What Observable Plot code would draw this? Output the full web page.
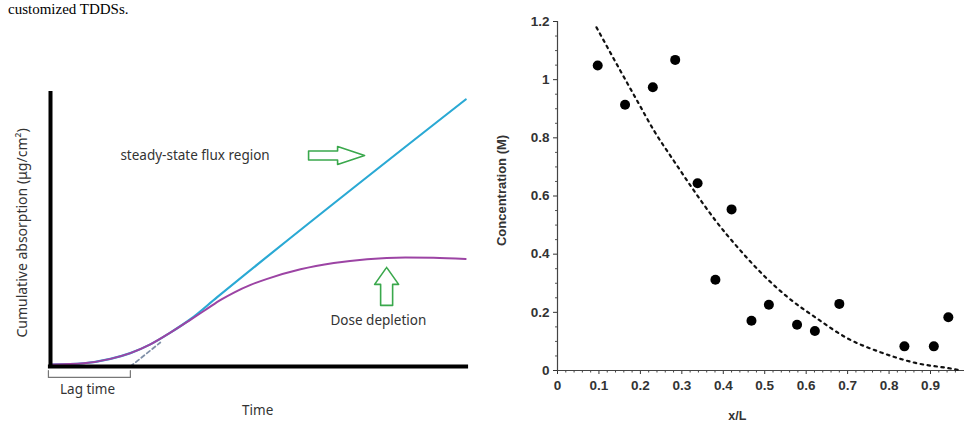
<!DOCTYPE html>
<html>
<head>
<meta charset="utf-8">
<script src="https://cdn.jsdelivr.net/npm/d3@7"></script>
<script src="https://cdn.jsdelivr.net/npm/@observablehq/plot@0.6"></script>
<style>
  html, body { margin: 0; padding: 0; background: #fff; }
  #wrap { position: relative; width: 964px; height: 426px; overflow: hidden; background: #fff; }
  #wrap svg { position: absolute; }
  #wrap svg.rightPanel g[aria-label$="tick label"] { font-size: 13.5px; font-weight: bold; }
</style>
</head>
<body>
<div id="wrap"></div>
<script>
// ---------- Left panel: schematic absorption profile (arbitrary units 0..100) ----------
const purpleX = [0, 8.0, 14.4, 19.2, 24.0, 28.8, 33.7, 37.7, 40.9, 44.1, 48.1, 52.1, 60.1, 68.1, 76.1, 85.3, 92.1, 99.8];
const purpleY = [0.7, 1.2, 2.8, 4.9, 8.1, 12.4, 17.2, 21.2, 24.4, 27.1, 29.9, 32.1, 35.6, 37.9, 39.3, 39.9, 39.8, 39.4];
const blueX = [0, 8.0, 14.4, 19.2, 24.0, 28.8, 33.7, 40.0, 99.8];
const blueY = [0.7, 1.2, 2.8, 4.9, 8.1, 12.4, 17.4, 25.3, 97.8];
const dashX = [19.2, 26.4];
const dashY = [0, 8.8];
const lagX = [-0.5, -0.5, 19.2, 19.2];
const lagY = [-1.5, -4, -4, -1.5];
const steadyLabel = "steady-state flux region";
const depletionLabel = "Dose depletion";
const lagLabel = "Lag time";
const timeLabel = "Time";
const leftYLabel = "Cumulative absorption (μg/cm²)";
// arrow tips (data units) and direction
const arrowTipX = [75.5, 80.8];
const arrowTipY = [77.3, 36.3];
const arrowDir = ["right", "up"];

// ---------- Right panel: concentration vs x/L ----------
const pointX = [0.097, 0.163, 0.230, 0.284, 0.338, 0.381, 0.420, 0.468, 0.510, 0.578, 0.621, 0.680, 0.837, 0.908, 0.943];
const pointY = [1.049, 0.914, 0.974, 1.068, 0.644, 0.312, 0.554, 0.171, 0.226, 0.157, 0.136, 0.229, 0.083, 0.083, 0.183];
const fitX = [0.094, 0.150, 0.192, 0.234, 0.283, 0.329, 0.381, 0.438, 0.496, 0.558, 0.627, 0.699, 0.779, 0.864, 0.952, 0.975];
const fitY = [1.18, 1.035, 0.928, 0.822, 0.716, 0.619, 0.516, 0.418, 0.329, 0.249, 0.178, 0.111, 0.063, 0.026, 0.006, 0.0];
const xTicks = [0, 0.1, 0.2, 0.3, 0.4, 0.5, 0.6, 0.7, 0.8, 0.9];
const yTicks = [0, 0.2, 0.4, 0.6, 0.8, 1, 1.2];
const xMinor = d3.range(0, 49).map(i => +(i * 0.02).toFixed(2)).filter(v => !xTicks.some(t => Math.abs(t - v) < 1e-9));
const yMinor = d3.range(0, 25).map(i => +(i * 0.05).toFixed(2)).filter(v => !yTicks.some(t => Math.abs(t - v) < 1e-9));
const rightYLabel = "Concentration (M)";
const rightXLabel = "x/L";

const zip = (xs, ys) => xs.map((x, i) => ({x, y: ys[i]}));

// arrow polygon built around a tip (sizes in px converted to data units)
const pxX = 416 / 100, pxY = 273 / 100;
function arrowPoly(tx, ty, dir) {
  const right = [[0,0],[-27,9],[-27,4.5],[-56,4.5],[-56,-4.5],[-27,-4.5],[-27,-9],[0,0]];
  const up = [[0,0],[12,-17],[6,-17],[6,-38],[-6,-38],[-6,-17],[-12,-17],[0,0]];
  const pts = dir === "right" ? right : up;
  return pts.map(([dx, dy]) => ({x: tx + dx / pxX, y: ty + dy / pxY}));
}

const sansL = "'Noto Sans', 'Open Sans', sans-serif";
const txt = {fontSize: 13.5, fill: "#333"};

const left = Plot.plot({
  width: 480, height: 426,
  marginLeft: 50, marginRight: 14, marginTop: 93, marginBottom: 60,
  x: {domain: [0, 100], axis: null},
  y: {domain: [0, 100], axis: null},
  style: {fontFamily: sansL, background: "transparent"},
  marks: [
    Plot.line(zip(blueX, blueY), {x: "x", y: "y", stroke: "#2aa9d4", strokeWidth: 2.2, curve: "monotone-x"}),
    Plot.line(zip(purpleX, purpleY), {x: "x", y: "y", stroke: "#9c44a4", strokeWidth: 2, curve: "monotone-x"}),
    Plot.line(zip(dashX, dashY), {x: "x", y: "y", stroke: "#8090a8", strokeWidth: 1.8, strokeDasharray: "4,3"}),
    Plot.ruleX([0], {y1: -0.7, y2: 100.7, stroke: "#000", strokeWidth: 4}),
    Plot.ruleY([0], {x1: -0.5, x2: 100.5, stroke: "#000", strokeWidth: 4}),
    Plot.line(zip(lagX, lagY), {x: "x", y: "y", stroke: "#777", strokeWidth: 1.2}),
    ...arrowTipX.map((tx, i) => Plot.line(arrowPoly(tx, arrowTipY[i], arrowDir[i]), {x: "x", y: "y", stroke: "#3aa84c", strokeWidth: 1.6, fill: "#fff", curve: "linear"})),
    Plot.text([steadyLabel], {x: 16.8, y: 77.3, text: d => d, textAnchor: "start", ...txt}),
    Plot.text([depletionLabel], {x: 67.3, y: 16.8, text: d => d, textAnchor: "start", ...txt}),
    Plot.text([lagLabel], {x: 8.9, y: -8.4, text: d => d, ...txt}),
    Plot.text([timeLabel], {x: 49.8, y: -16.1, text: d => d, ...txt}),
    Plot.text([leftYLabel], {x: -6.7, y: 48.9, text: d => d, rotate: -90, fontSize: 14, fill: "#333"})
  ]
});
left.style.left = "0px"; left.style.top = "0px";

const sansR = "'Liberation Sans', Arial, sans-serif";
const fmt = d => String(d);
const right = Plot.plot({
  width: 484, height: 426,
  marginLeft: 77, marginRight: 0, marginTop: 21, marginBottom: 56,
  className: "rightPanel",
  x: {domain: [0, 0.982]},
  y: {domain: [0, 1.2]},
  style: {fontFamily: sansR, fontSize: "13px", background: "transparent"},
  marks: [
    Plot.axisX(xTicks, {tickSize: 4, tickPadding: 6, fontSize: 13.5, fontWeight: "bold", tickFormat: fmt, label: null, stroke: "#333", fill: "#333"}),
    Plot.axisX(xMinor, {tickSize: 2.5, tickFormat: () => "", label: null, stroke: "#444"}),
    Plot.axisY(yTicks, {tickSize: 4, tickPadding: 4, fontSize: 13.5, fontWeight: "bold", tickFormat: fmt, label: null, stroke: "#333", fill: "#333"}),
    Plot.axisY(yMinor, {tickSize: 2, tickFormat: () => "", label: null, stroke: "#555"}),
    Plot.ruleX([0], {stroke: "#444", strokeWidth: 1.2}),
    Plot.ruleY([0], {stroke: "#444", strokeWidth: 1.2}),
    Plot.line(zip(fitX, fitY), {x: "x", y: "y", stroke: "#111", strokeWidth: 2.2, strokeDasharray: "2.5,4.5", curve: "monotone-x"}),
    Plot.dot(zip(pointX, pointY), {x: "x", y: "y", r: 5, fill: "#000", stroke: "none"}),
    Plot.text([rightYLabel], {x: -0.135, y: 0.619, text: d => d, rotate: -90, fontSize: 13, fontWeight: "bold", fill: "#333"}),
    Plot.text([rightXLabel], {x: 0.434, y: -0.155, text: d => d, fontSize: 12.5, fontWeight: "bold", fill: "#333"})
  ]
});
right.classList.add("rightPanel");
right.style.left = "480px"; right.style.top = "0px";

// fragment of document text at the very top (kept fully visible)
const ns = "http://www.w3.org/2000/svg";
const topSvg = document.createElementNS(ns, "svg");
topSvg.setAttribute("width", 300); topSvg.setAttribute("height", 30);
topSvg.style.left = "0px"; topSvg.style.top = "0px";
const tt = document.createElementNS(ns, "text");
tt.setAttribute("x", 8); tt.setAttribute("y", 14);
tt.setAttribute("font-family", "'Liberation Serif', 'Times New Roman', serif");
tt.setAttribute("font-size", 15);
tt.textContent = "customized TDDSs.";
topSvg.appendChild(tt);

const wrap = document.getElementById("wrap");
wrap.appendChild(left);
wrap.appendChild(right);
wrap.appendChild(topSvg);
</script>
</body>
</html>
